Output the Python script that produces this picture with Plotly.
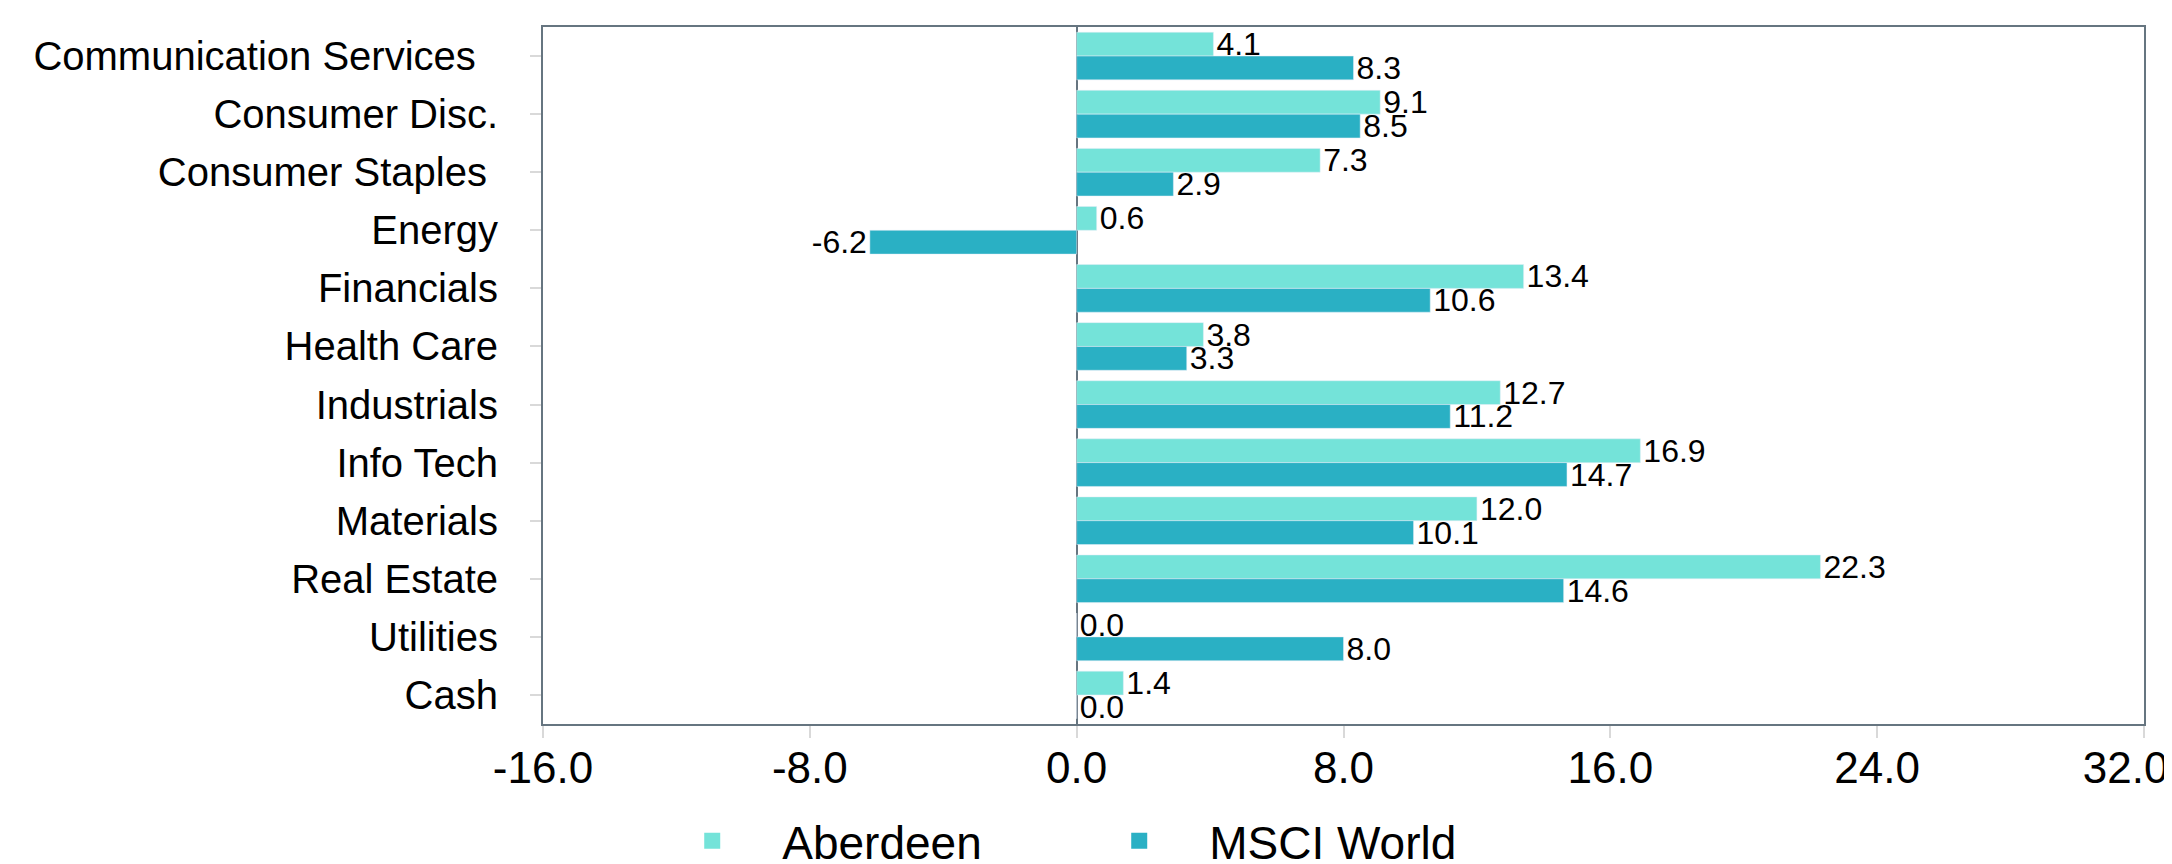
import plotly.graph_objects as go

# sector weights (%)
sectors = ["Communication Services\u00a0\u00a0", "Consumer Disc.", "Consumer Staples\u00a0",
           "Energy", "Financials", "Health Care", "Industrials", "Info Tech",
           "Materials", "Real Estate", "Utilities", "Cash"]
aberdeen = [4.1, 9.1, 7.3, 0.6, 13.4, 3.8, 12.7, 16.9, 12.0, 22.3, 0.0, 1.4]
msci_world = [8.3, 8.5, 2.9, -6.2, 10.6, 3.3, 11.2, 14.7, 10.1, 14.6, 8.0, 0.0]
x_ticks = [-16, -8, 0, 8, 16, 24, 32]

font_name = "Liberation Sans, Arial, sans-serif"
frame = "#667580"
c_abd = "#74E3D9"
c_msci = "#2AB0C4"

# plain hyphen minus like the original, last label nudged left to fit
tick_text = [f"{v:.1f}" for v in x_ticks]
tick_text[-1] = tick_text[-1] + "\u00a0\u00a0\u00a0"

fig = go.Figure()
for name, vals, col in [("Aberdeen", aberdeen, c_abd), ("MSCI World", msci_world, c_msci)]:
    fig.add_trace(go.Bar(y=sectors, x=vals, name=name, orientation="h",
                         marker_color=col, text=[f"{v:.1f}" for v in vals],
                         textposition="outside", constraintext="none",
                         textfont=dict(size=32, color="black"), showlegend=False))
# bigger square keys for the legend
for name, col in [("Aberdeen", c_abd), ("MSCI World", c_msci)]:
    fig.add_trace(go.Scatter(x=[None], y=[None], mode="markers", name=name,
                             marker=dict(symbol="square", size=24, color=col)))

fig.update_layout(
    width=2172, height=864,
    barmode="group", bargap=0.18, bargroupgap=0,
    plot_bgcolor="white", paper_bgcolor="white",
    font=dict(family=font_name, color="black"),
    margin=dict(l=535, r=36, t=19, b=148),
    legend=dict(orientation="h", xref="container", yref="container",
                x=0.292, xanchor="left", y=0.036, yanchor="middle",
                font=dict(size=46), itemwidth=130, entrywidth=282,
                itemsizing="trace", traceorder="normal"),
)
fig.update_xaxes(range=[-16, 32], tickvals=x_ticks, ticktext=tick_text,
                 ticklabeloverflow="allow", automargin=False,
                 showgrid=False, showline=True, mirror=True, linecolor=frame,
                 linewidth=2, zeroline=True, zerolinecolor=frame, zerolinewidth=2,
                 ticks="outside", ticklen=12, tickcolor="#d9d9d9", tickwidth=2,
                 tickfont=dict(size=44), ticklabelstandoff=-8)
fig.update_yaxes(autorange="reversed", automargin=False, showgrid=False,
                 showline=True, mirror=True, linecolor=frame, linewidth=2,
                 ticks="outside", ticklen=11, tickcolor="#d9d9d9", tickwidth=2,
                 tickfont=dict(size=40), ticklabelstandoff=24)

fig.write_html("out.html")
